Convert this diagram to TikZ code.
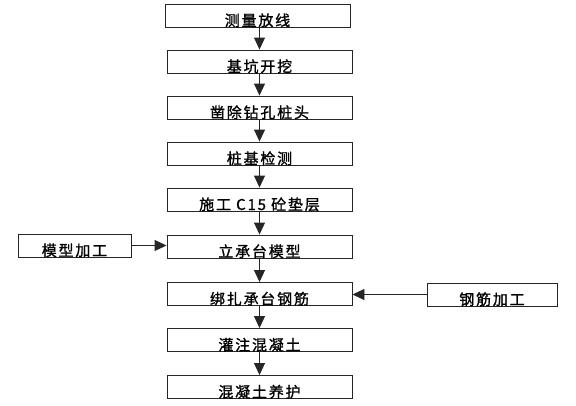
\documentclass[tikz,border=0pt]{standalone}
\usepackage{fontspec}
\setmainfont{Noto Sans CJK SC}[LetterSpace=12,FakeBold=1.2]
\usetikzlibrary{arrows.meta}
\tikzset{
  box/.style={draw=black!85, line width=0.9pt, minimum width=185, minimum height=23,
    inner sep=0pt, font=\fontsize{15}{15}\selectfont, text height=21pt, text depth=0pt},
  sidebox/.style={box, minimum width=113},
  flow/.style={draw=black!85, line width=0.9pt, -{Triangle[length=12pt,width=11pt]}}
}
\begin{document}
\begin{tikzpicture}[x=1pt,y=-1pt]
\useasboundingbox (0,0) rectangle (576,405);
\node[box] (n1) at (257.5,15.5) {测量放线};
\node[box] (n2) at (259.5,61.5) {基坑开挖};
\node[box] (n3) at (259.5,107.5) {凿除钻孔桩头};
\node[box] (n4) at (259.5,153.5) {桩基检测};
\node[box] (n5) at (259.5,199.5) {施工 C15 砼垫层};
\node[box] (n6) at (259.5,246.5) {立承台模型};
\node[box] (n7) at (259.5,294) {绑扎承台钢筋};
\node[box] (n8) at (259.5,340) {灌注混凝土};
\node[box] (n9) at (259.5,387) {混凝土养护};
\node[sidebox, minimum width=113] (m) at (74.5,245.5) {模型加工};
\node[sidebox, minimum width=130] (g) at (492,294.5) {钢筋加工};
\draw[flow] (n1.south -| n2.south) -- (n2.north);
\draw[flow] (n2) -- (n3);
\draw[flow] (n3) -- (n4);
\draw[flow] (n4) -- (n5);
\draw[flow] (n5) -- (n6);
\draw[flow] (n6) -- (n7);
\draw[flow] (n7) -- (n8);
\draw[flow] (n8) -- (n9);
\draw[flow] (m.east) -- (m.east -| n6.west);
\draw[flow] (g.west) -- (g.west -| n7.east);
\end{tikzpicture}
\end{document}
